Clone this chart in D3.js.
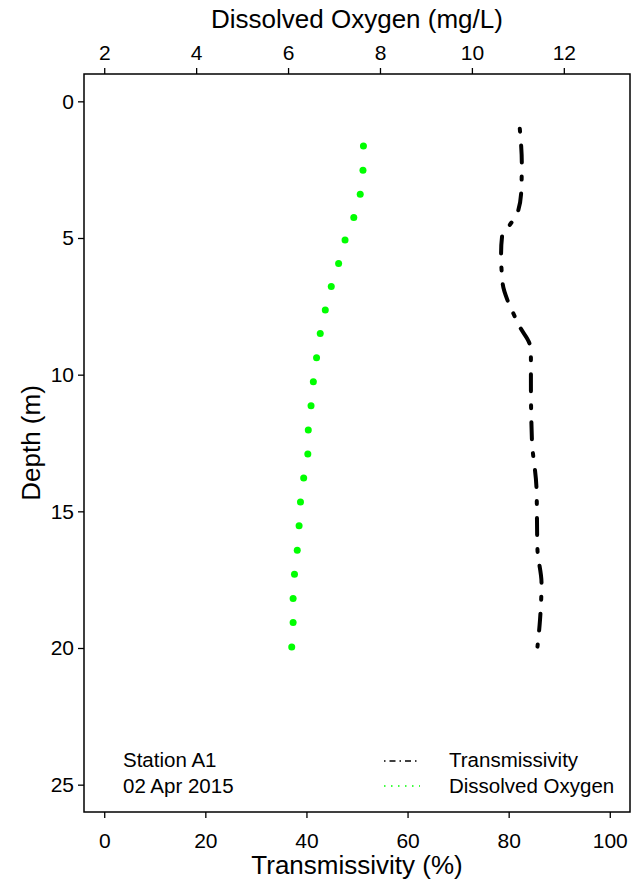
<!DOCTYPE html>
<meta charset="utf-8">
<script src="https://d3js.org/d3.v7.min.js"></script>
<style>
  body { margin: 0; background: #fff; }
  text { font-family: "Liberation Sans", Arial, sans-serif; fill: #000; }
</style>
<div class="canvas"></div>
<script>

    const width = 644
    const height = 886
    const margin = {"top": 74, "right": 14, "bottom": 74, "left": 84}
    const graphWidth = width - margin.left - margin.right
    const graphHeight = height - margin.top - margin.bottom

    // dissolved oxygen profile (mg/L)
    const doDepth = [1.63, 2.52, 3.40, 4.25, 5.07, 5.93, 6.77, 7.63, 8.49, 9.38, 10.26,
                     11.14, 12.02, 12.90, 13.78, 14.66, 15.53, 16.42, 17.30, 18.19, 19.07, 19.96]
    const doValue = [7.64, 7.63, 7.57, 7.43, 7.24, 7.10, 6.94, 6.81, 6.70, 6.62, 6.55,
                     6.50, 6.44, 6.43, 6.34, 6.27, 6.24, 6.20, 6.14, 6.11, 6.11, 6.08]

    // transmissivity profile (%)
    const trDepth = [1.0, 2.27, 3.25, 4.05, 4.53, 4.93, 5.56, 6.65, 7.34, 7.75, 8.25,
                     8.92, 9.39, 10.31, 12.39, 14.14, 16.41, 17.62, 18.97, 19.95]
    const trValue = [82.2, 82.6, 82.5, 81.8, 80.2, 78.7, 78.5, 78.8, 79.9, 80.9, 82.2,
                     84.2, 84.4, 84.4, 84.6, 85.5, 85.7, 86.5, 86.2, 85.7]

    const depthTicks = [0, 5, 10, 15, 20, 25]
    const trTicks = [0, 20, 40, 60, 80, 100]
    const doTicks = [2, 4, 6, 8, 10, 12]

    const svg = d3.select(".canvas")
                .append("svg")
                .attr("width", width)
                .attr("height", height)

    const graph = svg.append("g")
                    .attr("transform", `translate(${margin.left},${margin.top})`)

    const y = d3.scaleLinear().domain([-1, 26]).range([0, graphHeight])
    const xT = d3.scaleLinear().domain([-4, 104]).range([0, graphWidth])
    const xO = d3.scaleLinear().domain([1.56, 13.44]).range([0, graphWidth])

    const styleAxis = g => {
        g.select(".domain").remove()
        g.selectAll(".tick line").attr("stroke", "#000").attr("stroke-width", 1.3)
        g.selectAll("text").style("font-size", "21px")
    }

    graph.append("g")
        .attr("transform", `translate(0,${graphHeight})`)
        .call(d3.axisBottom(xT).tickValues(trTicks).tickSize(6).tickPadding(15))
        .call(styleAxis)

    graph.append("g")
        .call(d3.axisTop(xO).tickValues(doTicks).tickSize(6).tickPadding(8))
        .call(styleAxis)

    graph.append("g")
        .call(d3.axisLeft(y).tickValues(depthTicks).tickSize(6).tickPadding(4))
        .call(styleAxis)

    graph.append("rect")
        .attr("width", graphWidth)
        .attr("height", graphHeight)
        .attr("fill", "none")
        .attr("stroke", "#000")
        .attr("stroke-width", 1.5)

    // transmissivity line
    const trData = trDepth.map((d, i) => ({depth: d, v: trValue[i]}))
    graph.append("path")
        .datum(trData)
        .attr("fill", "none")
        .attr("stroke", "#000")
        .attr("stroke-width", 4)
        .attr("stroke-linecap", "round")
        .attr("stroke-dasharray", "3,14,17,14")
        .attr("d", d3.line().x(d => xT(d.v)).y(d => y(d.depth)).curve(d3.curveMonotoneY))

    // dissolved oxygen dots
    graph.selectAll("circle.do")
        .data(doDepth.map((d, i) => ({depth: d, v: doValue[i]})))
        .enter()
        .append("circle")
        .attr("class", "do")
        .attr("cx", d => xO(d.v))
        .attr("cy", d => y(d.depth))
        .attr("r", 3.5)
        .attr("fill", "#00ff00")

    // axis titles
    svg.append("text")
        .attr("x", margin.left + graphWidth / 2)
        .attr("y", 874)
        .attr("text-anchor", "middle")
        .style("font-size", "26px")
        .text("Transmissivity (%)")

    svg.append("text")
        .attr("x", margin.left + graphWidth / 2)
        .attr("y", 28)
        .attr("text-anchor", "middle")
        .style("font-size", "26px")
        .text("Dissolved Oxygen (mg/L)")

    svg.append("text")
        .attr("transform", `translate(40,${margin.top + graphHeight / 2}) rotate(-90)`)
        .attr("text-anchor", "middle")
        .style("font-size", "26px")
        .text("Depth (m)")

    // station note
    const note = svg.append("g").style("font-size", "20.5px")
    note.append("text").attr("x", 123).attr("y", 767).text("Station A1")
    note.append("text").attr("x", 123).attr("y", 793).text("02 Apr 2015")

    // legend
    const legend = svg.append("g")
    legend.append("line")
        .attr("x1", 384).attr("x2", 420).attr("y1", 761).attr("y2", 761)
        .attr("stroke", "#000").attr("stroke-width", 1.5)
        .attr("stroke-dasharray", "1.5,4,6,4")
    legend.append("line")
        .attr("x1", 384).attr("x2", 420).attr("y1", 786).attr("y2", 786)
        .attr("stroke", "#00ff00").attr("stroke-width", 1.5)
        .attr("stroke-dasharray", "1.5,5.5")
    legend.append("text").attr("x", 449).attr("y", 767).style("font-size", "20.5px").text("Transmissivity")
    legend.append("text").attr("x", 449).attr("y", 793).style("font-size", "20.5px").text("Dissolved Oxygen")

</script>
